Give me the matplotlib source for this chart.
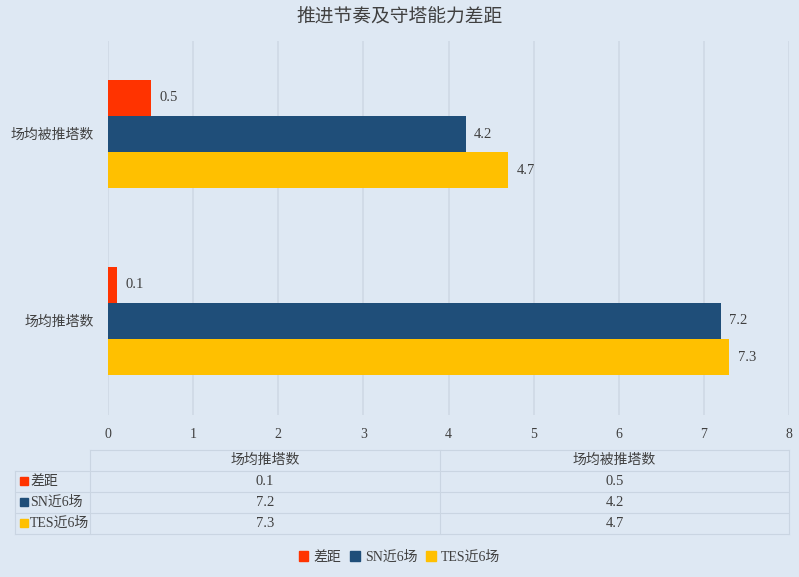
import numpy as np
import matplotlib
matplotlib.use("Agg")
import matplotlib.pyplot as plt
from matplotlib.patches import Rectangle

plt.rcParams['font.family'] = ['Liberation Serif', 'Noto Sans CJK SC']

# ------------------- Data: ---------------------------------------------------------
categories = ['场均推塔数', '场均被推塔数']
series_names = ['差距', 'SN近6场', 'TES近6场']
gap = [0.1, 0.5]
sn = [7.2, 4.2]
tes = [7.3, 4.7]
title = '推进节奏及守塔能力差距'

colors = ['#FF3300', '#1F4E79', '#FFC000']
bg = '#DEE8F3'
grid_c = '#CFD9E5'
text_c = '#404040'

# ------------------- Plotting: -----------------------------------------------------
W, H = 799, 577
fig = plt.figure(figsize=(W / 100, H / 100), dpi=100, facecolor=bg)
ax = fig.add_axes([108 / W, 1 - 414.5 / H, (789 - 108) / W, (414.5 - 40.5) / H])
ax.set_facecolor(bg)

y = np.arange(len(categories))
h = 0.193
all_series = [gap, sn, tes]
offsets = [h, 0, -h]
for vals, off, c in zip(all_series, offsets, colors):
    bars = ax.barh(y + off, vals, height=h, color=c, zorder=3)
    for b, v in zip(bars, vals):
        ax.text(v + 0.1, b.get_y() + h / 2, str(v), va='center', ha='left',
                fontsize=10.5, color=text_c)

ax.set_xlim(0, 8)
ax.set_ylim(-0.5, 1.5)
ax.set_xticks(range(9))
ax.set_yticks(y)
ax.set_yticklabels(categories, fontsize=10, color=text_c)
ax.tick_params(axis='both', length=0, labelsize=10, colors=text_c)
ax.tick_params(axis='y', pad=10)
ax.tick_params(axis='x', pad=10)
ax.grid(axis='x', color=grid_c, linewidth=1.2, zorder=0)
for s in ax.spines.values():
    s.set_visible(False)

fig.text(0.5, 1 - 17 / H, title, ha='center', va='center', fontsize=13.5, color=text_c)

# ------------------- Data table: ---------------------------------------------------
def fx(px):
    return px / W

def fy(py):
    return 1 - py / H

row_y = [450, 471, 492, 513, 534]
x_left, x_key, x_mid, x_right = 15, 90, 440, 789
line_kw = dict(color='#CAD5E2', linewidth=0.8, transform=fig.transFigure)
# horizontal lines
fig.add_artist(plt.Line2D([fx(x_key), fx(x_right)], [fy(row_y[0])] * 2, **line_kw))
for ry in row_y[1:]:
    fig.add_artist(plt.Line2D([fx(x_left), fx(x_right)], [fy(ry)] * 2, **line_kw))
# vertical lines
fig.add_artist(plt.Line2D([fx(x_left)] * 2, [fy(row_y[1]), fy(row_y[-1])], **line_kw))
for xx in (x_key, x_mid, x_right):
    fig.add_artist(plt.Line2D([fx(xx)] * 2, [fy(row_y[0]), fy(row_y[-1])], **line_kw))

col_centers = [(x_key + x_mid) / 2, (x_mid + x_right) / 2]
for cx, cat in zip(col_centers, categories):
    fig.text(fx(cx), fy((row_y[0] + row_y[1]) / 2), cat, ha='center', va='center',
             fontsize=10, color=text_c)
for i, (name, vals, c) in enumerate(zip(series_names, all_series, colors)):
    cy = (row_y[i + 1] + row_y[i + 2]) / 2
    fig.add_artist(Rectangle((fx(20), fy(cy + 3.5)), fx(8), 8 / H, color=c,
                             transform=fig.transFigure))
    fig.text(fx(30), fy(cy), name, ha='left', va='center', fontsize=10, color=text_c)
    for cx, v in zip(col_centers, vals):
        fig.text(fx(cx), fy(cy), str(v), ha='center', va='center', fontsize=10.5,
                 color=text_c)

# ------------------- Legend: -------------------------------------------------------
handles = [Rectangle((0, 0), 1, 1, color=c) for c in colors]
fig.legend(handles, series_names, loc='center', bbox_to_anchor=(0.5, fy(557)),
           ncol=3, frameon=False, fontsize=10, handlelength=0.7, handleheight=0.7,
           handletextpad=0.4, columnspacing=0.6, labelcolor=text_c)

fig.savefig('out.png', dpi=100, facecolor=bg)
